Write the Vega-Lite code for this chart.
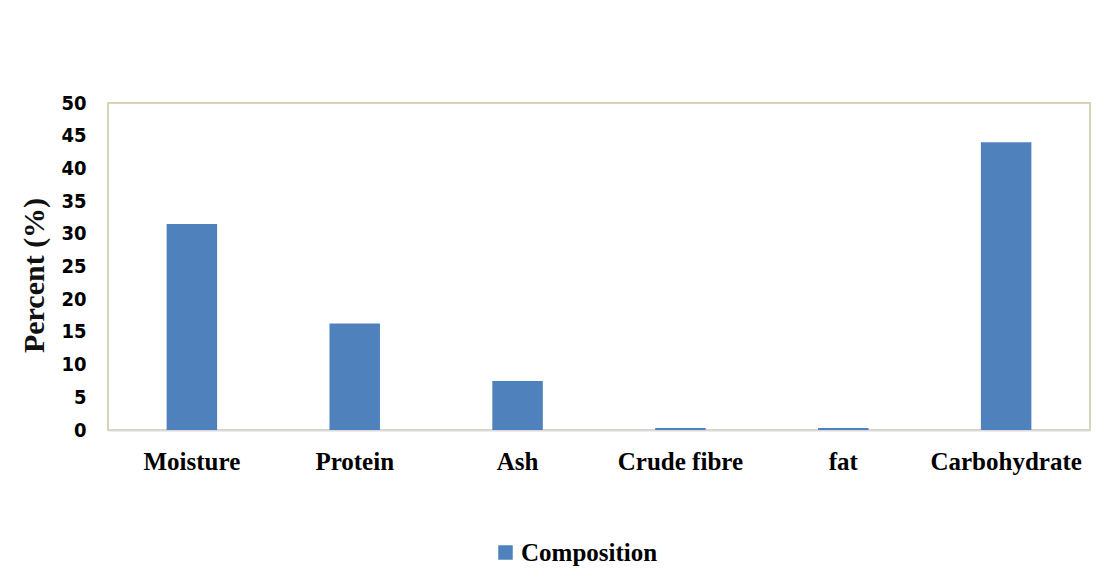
{
  "$schema": "https://vega.github.io/schema/vega-lite/v6.json",
  "width": 982,
  "height": 327,
  "autosize": {"type": "none"},
  "padding": {"left": 108, "top": 103, "right": 20, "bottom": 152},
  "background": "white",
  "data": {
    "values": [
      {"component": "Moisture", "percent": 31.5, "series": "Composition"},
      {"component": "Protein", "percent": 16.3, "series": "Composition"},
      {"component": "Ash", "percent": 7.5, "series": "Composition"},
      {"component": "Crude fibre", "percent": 0.3, "series": "Composition"},
      {"component": "fat", "percent": 0.3, "series": "Composition"},
      {"component": "Carbohydrate", "percent": 44.0, "series": "Composition"}
    ]
  },
  "mark": {"type": "bar", "opacity": 1},
  "encoding": {
    "x": {
      "field": "component",
      "type": "nominal",
      "sort": null,
      "scale": {"paddingInner": 0.69, "paddingOuter": 0.36},
      "axis": {
        "title": null,
        "labelAngle": 0,
        "labelFont": "Liberation Serif",
        "labelFontWeight": "bold",
        "labelFontSize": 25,
        "labelColor": "#000000",
        "ticks": false,
        "labelPadding": 19,
        "domainColor": "#d9d9d9",
        "domainWidth": 2
      }
    },
    "y": {
      "field": "percent",
      "type": "quantitative",
      "scale": {"domain": [0, 50], "nice": false},
      "axis": {
        "values": [0, 5, 10, 15, 20, 25, 30, 35, 40, 45, 50],
        "grid": false,
        "domain": false,
        "ticks": false,
        "labelPadding": 22,
        "labelFont": "DejaVu Sans Condensed",
        "labelFontWeight": "bold",
        "labelFontSize": 20,
        "labelColor": "#000000",
        "title": "Percent (%)",
        "titleFont": "Liberation Serif",
        "titleFontWeight": "bold",
        "titleFontSize": 30,
        "titleColor": "#111111",
        "titlePadding": 11,
        "titleY": 172
      }
    },
    "color": {
      "field": "series",
      "type": "nominal",
      "scale": {"range": ["#4f81bd"]},
      "legend": {
        "title": null,
        "orient": "none",
        "legendX": 385,
        "legendY": 437,
        "symbolType": "square",
        "symbolSize": 210,
        "symbolStrokeWidth": 0,
        "labelFont": "Liberation Serif",
        "labelFontWeight": "bold",
        "labelFontSize": 25,
        "labelColor": "#000000",
        "labelOffset": 3
      }
    }
  },
  "config": {
    "view": {"stroke": "#d9d3b7", "strokeWidth": 2}
  }
}
